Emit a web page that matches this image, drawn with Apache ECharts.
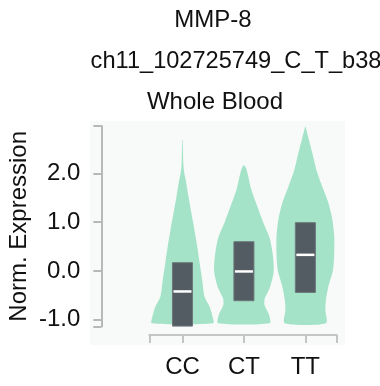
<!DOCTYPE html>
<html>
<head>
<meta charset="utf-8">
<script src="https://cdn.jsdelivr.net/npm/echarts@6/dist/echarts.min.js"></script>
<style>
html,body{margin:0;padding:0;background:#fff;}
#chart{width:380px;height:386px;}
</style>
</head>
<body>
<div id="chart"></div>
<script>
// ---- data ----
var categories = ['CC', 'CT', 'TT'];
var yTickValues = [-1, 0, 1, 2];
// violin outlines: levels (Norm. Expression) and half-widths (fraction of category spacing)
var ccLevels = [-1.07, -0.94, -0.73, -0.53, -0.18, 0.16, 0.5, 0.84, 1.18, 1.52, 1.86, 2.0, 2.2, 2.68];
var ccWidths = [0.50, 0.49, 0.44, 0.36, 0.32, 0.28, 0.24, 0.195, 0.146, 0.098, 0.054, 0.03, 0.014, 0.004];
var ctLevels = [-1.07, -0.9, -0.7, -0.56, -0.35, -0.01, 0.33, 0.67, 1.01, 1.35, 1.69, 1.97, 2.12, 2.17];
var ctWidths = [0.42, 0.41, 0.335, 0.34, 0.42, 0.485, 0.47, 0.42, 0.31, 0.21, 0.115, 0.065, 0.03, 0.0];
var ttLevels = [-1.07, -0.8, -0.59, -0.32, 0.02, 0.36, 0.70, 1.05, 1.39, 1.73, 2.07, 2.41, 2.68, 2.97];
var ttWidths = [0.335, 0.325, 0.335, 0.375, 0.45, 0.47, 0.47, 0.44, 0.375, 0.275, 0.18, 0.115, 0.06, 0.0];
// box: [q1, median, q3]
var q1Values = [-1.13, -0.61, -0.44];
var medianValues = [-0.42, -0.01, 0.33];
var q3Values = [0.17, 0.60, 0.99];

var violinLevels = [ccLevels, ctLevels, ttLevels];
var violinWidths = [ccWidths, ctWidths, ttWidths];

var X_MIN = -0.54, X_MAX = 2.51, Y_MIN = -1.14, Y_MAX = 2.97;
var BOX_HALF = 0.163;
var FONT = 'Liberation Sans, Arial, Helvetica, sans-serif';

var chart = echarts.init(document.getElementById('chart'), null, {renderer: 'canvas'});

var violinData = categories.map(function (c, i) { return [i]; });
var boxData = categories.map(function (c, i) { return [i, q1Values[i], medianValues[i], q3Values[i]]; });

chart.setOption({
  animation: false,
  backgroundColor: '#ffffff',
  title: [
    {text: 'MMP-8', left: 208, top: 3, textAlign: 'center',
     textStyle: {fontFamily: FONT, fontSize: 24, fontWeight: 'normal', color: '#111', lineHeight: 24}},
    {text: 'ch11_102725749_C_T_b38', left: 231, top: 44, textAlign: 'center',
     textStyle: {fontFamily: FONT, fontSize: 23.6, fontWeight: 'normal', color: '#111', lineHeight: 24}},
    {text: 'Whole Blood', left: 210, top: 85, textAlign: 'center',
     textStyle: {fontFamily: FONT, fontSize: 24, fontWeight: 'normal', color: '#111', lineHeight: 24}}
  ],
  graphic: [{
    type: 'rect', z: -10, silent: true,
    shape: {x: 90, y: 121, width: 255, height: 224},
    style: {fill: '#f7faf9'}
  }],
  grid: {left: 149.3, right: 43.3, top: 126, bottom: 59.4, containLabel: false},
  xAxis: {
    type: 'value', min: X_MIN, max: X_MAX, offset: 8.4,
    axisLine: {show: true, onZero: false, lineStyle: {color: '#c4c4c4', width: 2}},
    axisTick: {show: true, length: 8, lineStyle: {color: '#c4c4c4', width: 2},
      customValues: [X_MIN, 0, 1, 2, X_MAX]},
    axisLabel: {show: true, margin: 20, fontFamily: FONT, fontSize: 24, color: '#111',
      customValues: [0, 1, 2],
      formatter: function (v) { return categories[Math.round(v)] || ''; }},
    splitLine: {show: false}
  },
  yAxis: {
    type: 'value', min: Y_MIN, max: Y_MAX, offset: 48,
    name: 'Norm. Expression', nameLocation: 'middle', nameRotate: 90, nameGap: 70,
    nameTextStyle: {fontFamily: FONT, fontSize: 24, color: '#111'},
    axisLine: {show: true, onZero: false, lineStyle: {color: '#b8b8b8', width: 2}},
    axisTick: {show: true, length: 8, lineStyle: {color: '#b8b8b8', width: 2},
      customValues: [Y_MIN, -1, 0, 1, 2, Y_MAX]},
    axisLabel: {show: true, margin: 21, fontFamily: FONT, fontSize: 24, color: '#111',
      customValues: yTickValues,
      formatter: function (v) { return v.toFixed(1); }},
    splitLine: {show: false}
  },
  series: [
    {
      type: 'custom', name: 'violin', data: violinData,
      renderItem: function (params, api) {
        var i = api.value(0);
        var lv = violinLevels[i], wd = violinWidths[i];
        var pts = [];
        for (var k = 0; k < lv.length; k++) pts.push(api.coord([i + wd[k], lv[k]]));
        for (var k2 = lv.length - 1; k2 >= 0; k2--) pts.push(api.coord([i - wd[k2], lv[k2]]));
        return {type: 'polygon', shape: {points: pts, smooth: 0.25}, style: {fill: '#a5e3c9'}};
      },
      z: 2
    },
    {
      type: 'custom', name: 'box', data: boxData,
      renderItem: function (params, api) {
        var i = api.value(0);
        var p1 = api.coord([i - BOX_HALF, api.value(3)]);
        var p2 = api.coord([i + BOX_HALF, api.value(1)]);
        var m1 = api.coord([i - BOX_HALF, api.value(2)]);
        var m2 = api.coord([i + BOX_HALF, api.value(2)]);
        return {type: 'group', children: [
          {type: 'rect', shape: {x: p1[0], y: p1[1], width: p2[0] - p1[0], height: p2[1] - p1[1]},
           style: {fill: '#535c62', stroke: '#6e777c', lineWidth: 1}},
          {type: 'line', shape: {x1: m1[0] + 1, y1: m1[1], x2: m2[0] - 1, y2: m2[1]},
           style: {stroke: '#ffffff', lineWidth: 2.5}}
        ]};
      },
      z: 3
    }
  ]
});
</script>
</body>
</html>
